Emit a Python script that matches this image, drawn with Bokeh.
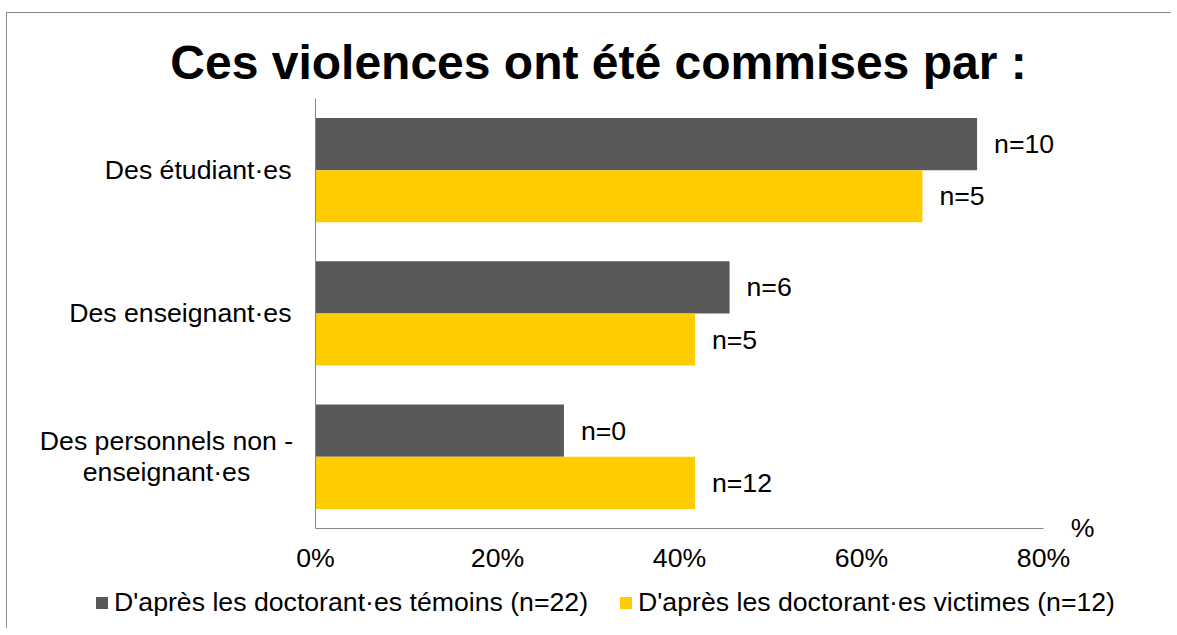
from bokeh.plotting import figure
from bokeh.models import Range1d, Label, LabelSet, ColumnDataSource, Legend, LegendItem
from bokeh.core.properties import value
from bokeh.embed import file_html
from bokeh.resources import INLINE

# ---- data ----
title = "Ces violences ont été commises par :"
categories = ["Des étudiant·es", "Des enseignant·es", "Des personnels non -\nenseignant·es"]
series_names = ["D'après les doctorant·es témoins (n=22)", "D'après les doctorant·es victimes (n=12)"]
temoins = [72.7, 45.5, 27.3]
victimes = [66.7, 41.7, 41.7]
temoins_labels = ["n=10", "n=6", "n=0"]
victimes_labels = ["n=5", "n=5", "n=12"]
x_ticks = [0, 20, 40, 60, 80]
x_tick_labels = ["0%", "20%", "40%", "60%", "80%"]
axis_unit = "%"

# ---- layout / styles ----
FONT = "Liberation Sans"
GRAY = "#595959"
YELLOW = "#FFCC00"
AXIS = "#868686"
FS = "26.67px"
BAR_H = 0.364
DODGE = BAR_H / 2

W, H = 1165, 616
CANVAS_L, CANVAS_T = 8, 13
PX_PER_X = 728 / 80.0       # pixels per percent
PX_PER_BAND = 143.3         # pixels per category band
FRAME_LEFT_PX, FRAME_TOP_PX = 316, 98

n = len(categories)
x0 = -(FRAME_LEFT_PX - CANVAS_L) / PX_PER_X
x1 = x0 + W / PX_PER_X
y1 = n + (FRAME_TOP_PX - CANVAS_T) / PX_PER_BAND
y0 = y1 - H / PX_PER_BAND

p = figure(
    x_range=Range1d(x0, x1), y_range=Range1d(y0, y1),
    width=W, height=H, min_border=0,
    output_backend="svg", toolbar_location=None,
    styles={"border-left": "1px solid #8a8a8a", "border-top": "1px solid #8a8a8a",
            "margin-top": "12px", "margin-left": "6px"},
)
p.outline_line_color = None
p.grid.grid_line_color = None
p.background_fill_color = "white"
p.border_fill_color = "white"

# category centres (first category on top)
ys = [n - 1 - i + 0.5 for i in range(n)]
src = ColumnDataSource(dict(
    yt=[y + DODGE for y in ys], yv=[y - DODGE for y in ys],
    t=temoins, v=victimes, tl=temoins_labels, vl=victimes_labels,
))
r1 = p.hbar(y="yt", right="t", left=0, height=BAR_H, source=src,
            fill_color=GRAY, line_color=None)
r2 = p.hbar(y="yv", right="v", left=0, height=BAR_H, source=src,
            fill_color=YELLOW, line_color=None)

for xcol, ycol, tcol in (("t", "yt", "tl"), ("v", "yv", "vl")):
    p.add_layout(LabelSet(x=xcol, y=ycol, text=tcol, source=src, x_offset=17,
                          text_align="left", text_baseline="middle",
                          text_font=value(FONT), text_font_size=FS, text_color="black"))

# category labels
for i, c in enumerate(categories):
    lines = c.split("\n")
    if len(lines) == 1:
        p.add_layout(Label(x=0, y=ys[i], x_offset=-24, text=c, text_align="right",
                           text_baseline="middle", text_font=FONT, text_font_size=FS,
                           text_color="black"))
    else:
        for j, ln in enumerate(lines):
            off = (len(lines) - 1) / 2 * 31 - j * 31
            p.add_layout(Label(x=0, y=ys[i], x_offset=-149, y_offset=off, text=ln,
                               text_align="center", text_baseline="middle", text_font=FONT,
                               text_font_size=FS, text_color="black"))

# title
p.add_layout(Label(x=(x0 + x1) / 2, y=n, x_offset=8.5, y_offset=36, text=title,
                   text_align="center", text_baseline="alphabetic", text_font=FONT,
                   text_font_size="48px", text_font_style="bold", text_color="black"))

# unit label
p.add_layout(Label(x=80, y=0, x_offset=39, y_offset=0, text=axis_unit, text_align="center",
                   text_baseline="middle", text_font=FONT, text_font_size=FS, text_color="black"))

# axes
p.xaxis.fixed_location = 0
p.xaxis.bounds = (0, 80)
p.xaxis.ticker = x_ticks
p.xaxis.major_label_overrides = {t: l for t, l in zip(x_ticks, x_tick_labels)}
p.xaxis.major_tick_line_color = None
p.xaxis.minor_tick_line_color = None
p.xaxis.major_tick_out = 0
p.xaxis.major_tick_in = 0
p.xaxis.major_label_standoff = 15
p.xaxis.axis_line_color = AXIS
p.xaxis.major_label_text_font = FONT
p.xaxis.major_label_text_font_size = FS
p.xaxis.major_label_text_color = "black"

p.yaxis.fixed_location = 0
p.yaxis.bounds = (0, n)
p.yaxis.ticker = []
p.yaxis.major_tick_line_color = None
p.yaxis.minor_tick_line_color = None
p.yaxis.major_label_text_color = None
p.yaxis.axis_line_color = AXIS

legend = Legend(items=[LegendItem(label=series_names[0], renderers=[r1]),
                       LegendItem(label=series_names[1], renderers=[r2])],
                orientation="horizontal", location=(87, 11),
                glyph_width=15, glyph_height=15, label_standoff=5, spacing=30,
                padding=0, margin=0, border_line_color=None, background_fill_alpha=0,
                label_text_font=FONT, label_text_font_size=FS, label_text_color="black")
p.add_layout(legend, "center")

open("out.html", "w").write(file_html(p, INLINE))
